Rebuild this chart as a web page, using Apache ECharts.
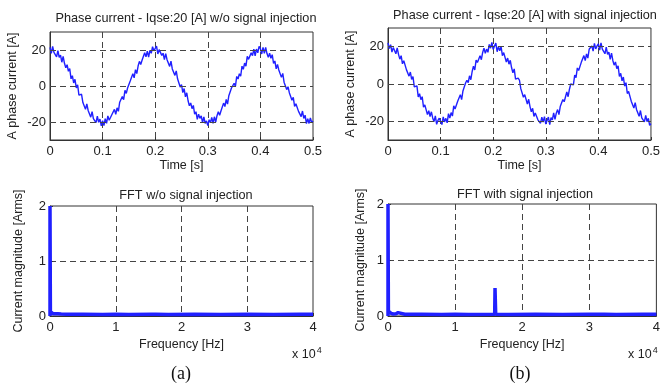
<!DOCTYPE html>
<html><head><meta charset="utf-8">
<script src="https://cdn.jsdelivr.net/npm/echarts@6/dist/echarts.min.js"></script>
<style>html,body{margin:0;padding:0;background:#fff}#c{width:663px;height:385px}</style>
</head><body><div id="c"></div>
<script>
// ---- data ----
const sampleTimeStep = 0.0025; // s
const currentNoInjection = [
21.5,18.1,22.0,18.7,19.6,16.2,19.7,15.9,17.1,13.2,16.5,12.6,10.1,11.8,8.2,9.7,4.0,5.7,1.7,3.7,
-1.1,0.7,-5.1,-4.0,-4.6,-9.2,-8.7,-12.9,-10.0,-13.6,-12.9,-17.3,-14.2,-18.1,-17.5,-20.3,-16.8,-20.2,-18.4,-22.1,
-19.2,-22.0,-18.1,-20.8,-16.6,-19.0,-19.7,-16.0,-17.0,-13.0,-15.7,-12.1,-14.1,-9.0,-9.3,-5.8,-7.6,-2.4,-4.1,-1.1,
-2.0,2.8,2.5,6.8,4.5,9.1,6.9,11.1,13.7,11.9,14.3,13.4,18.5,16.2,19.4,16.1,19.8,18.2,21.8,19.5,
18.9,22.2,17.8,20.2,20.6,17.0,18.2,14.7,18.0,14.6,15.3,10.9,13.8,9.5,9.4,5.9,8.4,4.0,4.5,-0.6,
0.8,-3.7,-1.4,-6.0,-3.8,-8.2,-11.0,-9.4,-12.6,-10.8,-15.7,-14.3,-18.5,-15.6,-18.0,-16.6,-20.4,-17.2,-20.8,-19.4,
-22.0,-18.7,-20.4,-17.4,-20.7,-17.1,-20.0,-16.5,-14.3,-16.3,-13.9,-14.8,-9.5,-11.4,-7.5,-10.1,-5.4,-6.0,-1.1,-2.0,
1.5,-0.2,5.3,3.9,6.8,5.4,11.0,9.3,12.7,11.0,16.5,14.8,14.5,18.4,16.9,20.5,16.8,20.5,18.4,22.0,
20.8,17.8,21.5,18.2,21.4,18.0,15.9,18.2,15.4,17.4,12.5,13.9,9.5,12.0,8.9,9.6,4.8,7.0,2.1,2.1,
-2.0,-0.4,-3.7,-2.6,-7.9,-6.3,-11.3,-9.9,-9.9,-14.1,-13.9,-17.0,-13.9,-18.0,-16.2,-20.9,-18.2,-20.8,-17.8,-20.3,
-19.4];
const currentWithInjection = [
22.0,19.0,21.1,17.1,19.5,20.3,16.2,19.4,15.9,13.3,15.2,10.8,12.5,12.6,7.7,7.9,4.2,6.4,2.5,4.0,
-1.5,-1.2,-1.0,-6.9,-5.2,-8.4,-6.8,-12.4,-11.2,-11.5,-16.4,-14.3,-17.4,-14.9,-18.2,-20.2,-17.1,-21.6,-19.5,-18.3,
-18.5,-21.7,-17.6,-20.3,-18.4,-20.8,-15.9,-18.3,-15.3,-17.2,-11.7,-13.4,-13.5,-9.2,-10.0,-5.7,-8.4,-3.7,-4.5,0.5,
2.0,0.7,4.4,2.3,6.7,9.5,7.5,12.8,11.5,11.1,15.2,13.0,16.9,19.2,16.4,18.7,17.0,21.2,19.2,22.3,
18.5,20.3,21.9,17.3,20.0,17.8,20.1,15.2,16.8,16.7,11.8,13.9,10.6,12.7,8.7,6.0,8.1,2.6,3.4,3.2,
2.0,-2.5,-1.8,-7.1,-5.7,-5.9,-10.7,-8.2,-12.1,-14.9,-13.0,-17.4,-15.5,-15.0,-19.2,-18.3,-21.0,-17.8,-20.4,-17.5,
-21.5,-19.5,-17.7,-21.7,-18.0,-19.2,-15.5,-19.0,-15.6,-13.7,-16.4,-12.1,-13.0,-8.3,-9.5,-9.4,-4.3,-6.8,-2.8,0.0,
0.8,-0.5,4.8,3.4,8.6,7.2,7.2,11.6,11.0,15.2,12.5,16.1,13.9,18.6,17.6,20.4,17.6,21.8,18.8,20.4,
21.5,18.1,22.0,18.7,19.6,16.2,19.7,15.9,17.1,13.2,16.5,12.6,10.1,11.8,8.2,9.7,4.0,5.7,1.7,3.7,
-1.1,0.7,-5.1,-4.0,-4.6,-9.2,-8.7,-12.9,-10.0,-13.6,-12.9,-17.3,-14.2,-18.1,-17.5,-20.3,-16.8,-20.2,-18.4,-22.1,
-21.2];
const fftFreqNoInjection = [0,0,60,150,300,500,800,1200,1500,1700,2500,5000,8000,10000,12000,15500,15800,16100,18000,22000,26000,30000,34000,38000,40000];
const fftMagNoInjection  = [0,2.0,0.08,0.07,0.05,0.04,0.035,0.04,0.06,0.035,0.03,0.03,0.028,0.03,0.028,0.03,0.055,0.03,0.028,0.03,0.028,0.03,0.028,0.03,0.03];
const fftFreqWithInjection = [0,0,60,150,300,500,800,1200,1500,1700,2500,5000,8000,10000,12000,15900,15950,15950,16050,16050,16100,18000,22000,26000,30000,31800,32000,32200,34000,38000,40000];
const fftMagWithInjection  = [0,2.0,0.09,0.08,0.06,0.045,0.035,0.04,0.06,0.035,0.03,0.03,0.028,0.03,0.028,0.03,0.03,0.5,0.5,0.03,0.03,0.028,0.03,0.028,0.03,0.03,0.055,0.03,0.028,0.03,0.03];
const currentGridValues = [-20,0,20];
const freqTickLabels = ['0','1','2','3','4'];
const titles = ['Phase current - Iqse:20 [A] w/o signal injection','Phase current - Iqse:20 [A] with signal injection','FFT w/o signal injection','FFT with signal injection'];

// ---- chart ----
const chart = echarts.init(document.getElementById('c'), null, {renderer:'canvas'});
const blue = '#2020ff';
const dark = '#333';
const font = 'Liberation Sans, Arial, sans-serif';
const grids = [
  {left:50, top:32, width:263, height:108},
  {left:388, top:28, width:268, height:112},
  {left:50, top:206, width:263, height:110},
  {left:388, top:204, width:269, height:112}
];
const dashStyle = {color:'#444', type:[6,4], width:1};
const dashed = {show:true, lineStyle:dashStyle};
const nameStyle = {fontSize:12.5, color:'#222', fontFamily:font};
const labelBase = {fontSize:13, color:'#222', fontFamily:font};
function timeAxis(gi){
  return {type:'value', gridIndex:gi, min:0, max:0.5, interval:0.1,
    name:'Time [s]', nameLocation:'middle', nameGap:19, nameTextStyle:nameStyle,
    axisLine:{show:true, onZero:false, lineStyle:{color:dark}}, axisTick:{inside:true, length:3, lineStyle:{color:dark}},
    axisLabel:Object.assign({margin:5, formatter:v=>String(+v.toFixed(1))}, labelBase),
    splitLine:Object.assign({showMinLine:false, showMaxLine:false}, dashed)};
}
function currentAxis(gi, gap){
  return {type:'value', gridIndex:gi, min:-30, max:30, interval:10,
    name:'A phase current [A]', nameLocation:'middle', nameGap:gap, nameTextStyle:nameStyle,
    axisLine:{show:true, onZero:false, lineStyle:{color:dark}},
    axisTick:{show:true, inside:true, length:3, customValues:currentGridValues, lineStyle:{color:dark}},
    axisLabel:Object.assign({margin:4, customValues:currentGridValues, formatter:v=>currentGridValues.indexOf(v)>=0?String(v):''}, labelBase),
    splitLine:{show:false}};
}
function freqAxis(gi){
  return {type:'value', gridIndex:gi, min:0, max:40000, interval:10000,
    name:'Frequency [Hz]', nameLocation:'middle', nameGap:22, nameTextStyle:nameStyle,
    axisLine:{show:true, onZero:false, lineStyle:{color:dark}}, axisTick:{inside:true, length:3, lineStyle:{color:dark}},
    axisLabel:Object.assign({margin:5, formatter:v=>freqTickLabels[Math.round(v/10000)]}, labelBase),
    splitLine:Object.assign({showMinLine:false, showMaxLine:false}, dashed)};
}
function magAxis(gi, gap){
  return {type:'value', gridIndex:gi, min:0, max:2, interval:1,
    name:'Current magnitude [Arms]', nameLocation:'middle', nameGap:gap, nameTextStyle:nameStyle,
    axisLine:{show:true, onZero:false, lineStyle:{color:dark}}, axisTick:{inside:true, length:3, lineStyle:{color:dark}},
    axisLabel:Object.assign({margin:4}, labelBase),
    splitLine:Object.assign({showMinLine:false, showMaxLine:false}, dashed)};
}
const toPairs = (vals) => vals.map((v,i)=>[i*sampleTimeStep, v]);
const zip = (xs, ys) => xs.map((x,i)=>[x, ys[i]]);
function gridLineSeries(ai){
  return {type:'line', xAxisIndex:ai, yAxisIndex:ai, data:[], z:1, silent:true,
    markLine:{silent:true, symbol:'none', label:{show:false}, lineStyle:dashStyle,
      data:currentGridValues.map(v=>({yAxis:v}))}};
}
const titleStyle = {fontSize:12.7, fontWeight:'normal', color:'#222', fontFamily:font};
const supRich = {s:{fontSize:9, verticalAlign:'top', padding:[0,0,8,1], fontFamily:font, fill:'#222'}};
chart.setOption({
  animation:false,
  title:[
    {text:titles[0], left:181, top:7, textAlign:'center', textStyle:titleStyle},
    {text:titles[1], left:520, top:4, textAlign:'center', textStyle:titleStyle},
    {text:titles[2], left:181, top:184, textAlign:'center', textStyle:titleStyle},
    {text:titles[3], left:520, top:183, textAlign:'center', textStyle:titleStyle}
  ],
  grid: grids.map(g=>Object.assign({show:true, borderColor:dark, borderWidth:1, backgroundColor:'transparent'}, g)),
  xAxis:[timeAxis(0), timeAxis(1), freqAxis(2), freqAxis(3)],
  yAxis:[currentAxis(0,31), currentAxis(1,31), magAxis(2,25), magAxis(3,21)],
  series:[
    gridLineSeries(0), gridLineSeries(1),
    {type:'line', xAxisIndex:0, yAxisIndex:0, data:toPairs(currentNoInjection), symbol:'none', z:3, lineStyle:{color:blue, width:1.4}},
    {type:'line', xAxisIndex:1, yAxisIndex:1, data:toPairs(currentWithInjection), symbol:'none', z:3, lineStyle:{color:blue, width:1.4}},
    {type:'line', xAxisIndex:2, yAxisIndex:2, data:zip(fftFreqNoInjection, fftMagNoInjection), symbol:'none', z:3, lineStyle:{color:blue, width:3.5}},
    {type:'line', xAxisIndex:3, yAxisIndex:3, data:zip(fftFreqWithInjection, fftMagWithInjection), symbol:'none', z:3, lineStyle:{color:blue, width:3.5}}
  ],
  graphic:[
    {type:'text', left:292, top:346, style:{text:'x 10{s|4}', rich:supRich, fontSize:12.5, fontFamily:font, fill:'#222'}},
    {type:'text', left:628, top:346, style:{text:'x 10{s|4}', rich:supRich, fontSize:12.5, fontFamily:font, fill:'#222'}},
    {type:'text', x:181, y:374, style:{text:'(a)', fontSize:18, fontFamily:'Liberation Serif, Times New Roman, serif', fill:'#111', align:'center', verticalAlign:'middle'}},
    {type:'text', x:520, y:374, style:{text:'(b)', fontSize:18, fontFamily:'Liberation Serif, Times New Roman, serif', fill:'#111', align:'center', verticalAlign:'middle'}}
  ]
});
</script></body></html>
